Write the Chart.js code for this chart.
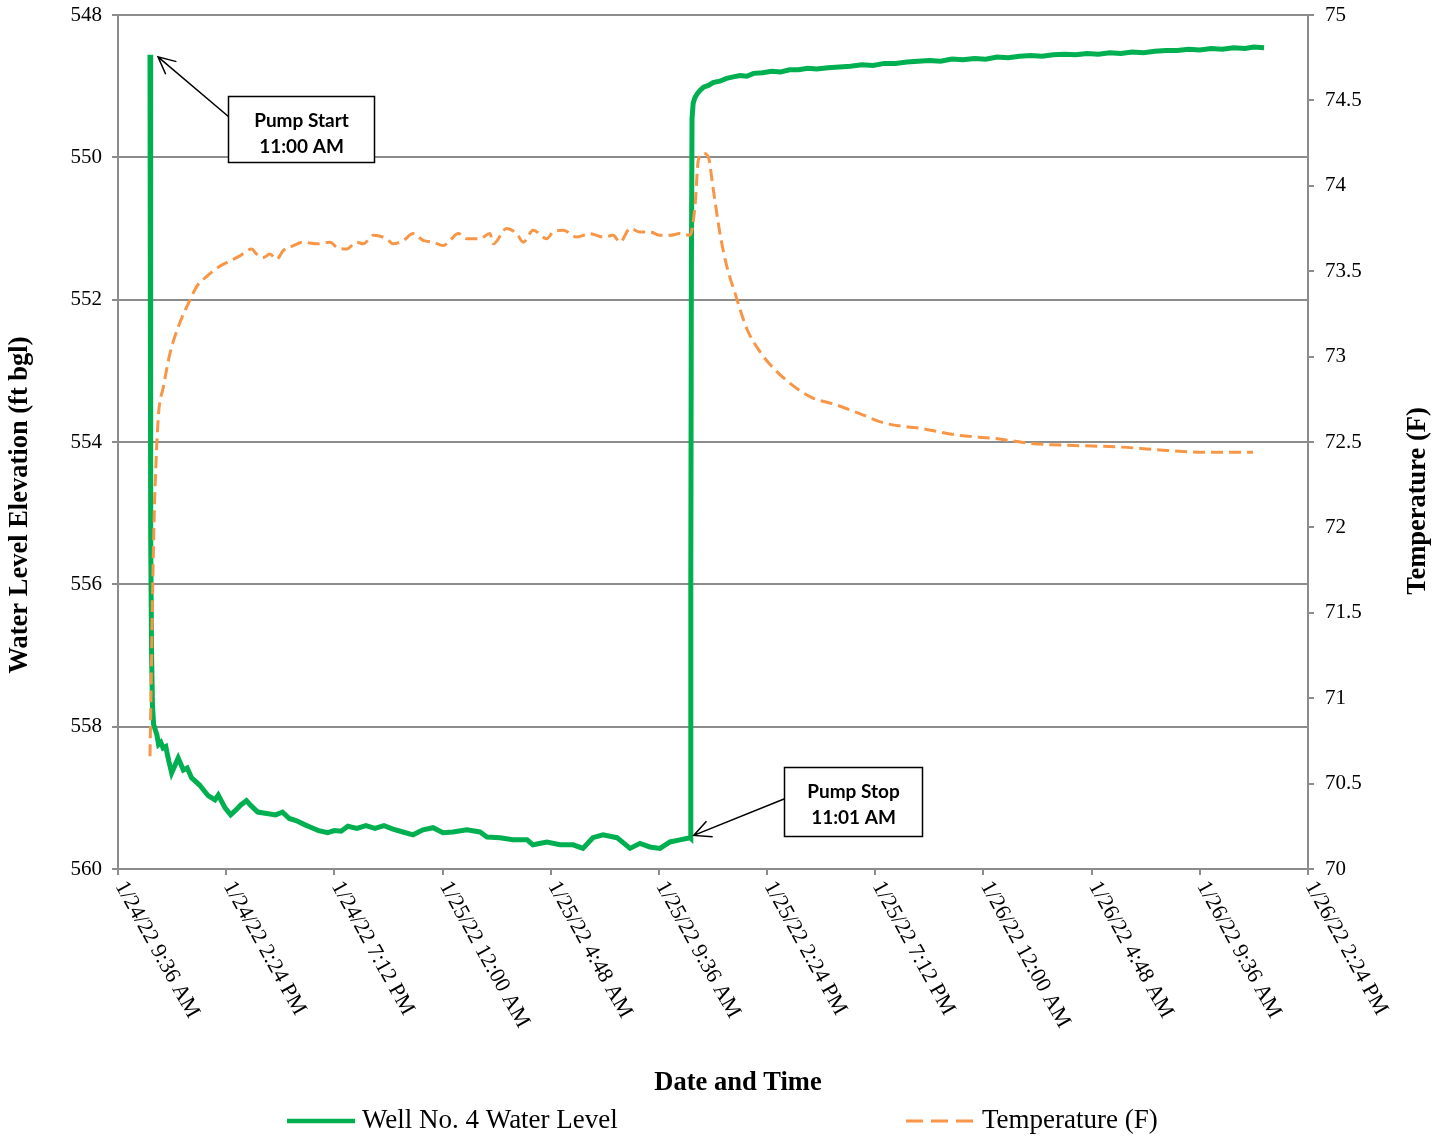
<!DOCTYPE html>
<html>
<head>
<meta charset="utf-8">
<title>Well No. 4 Water Level and Temperature</title>
<script src="https://cdn.jsdelivr.net/npm/chart.js@4.4.1/dist/chart.umd.min.js"></script>
<style>
  html, body { margin: 0; padding: 0; background: #fff; }
  #wrap { width: 1448px; height: 1141px; position: relative; }
</style>
</head>
<body>
<div id="wrap"><canvas id="wellChart"></canvas></div>
<script>
// hours since 1/24/22 9:36 AM
const levelHours = [
  1.42, 1.44, 1.46, 1.49, 1.53, 1.58, 1.66, 1.73, 1.80, 1.90, 2.00, 2.12, 2.25, 2.38, 2.67, 2.90, 3.07, 3.27,
  3.62, 4.00, 4.30, 4.45, 4.75, 5.00, 5.20, 5.45, 5.70, 5.90, 6.20, 6.60, 7.00, 7.30, 7.60, 7.90, 8.30, 8.60,
  8.90, 9.30, 9.60, 9.90, 10.20, 10.60, 11.00, 11.40, 11.80, 12.20, 12.64, 13.09, 13.53, 13.98, 14.42, 14.86,
  15.48, 16.06, 16.37, 16.95, 17.52, 18.15, 18.41, 19.03, 19.61, 20.19, 20.63, 21.07, 21.52, 22.14, 22.72,
  23.16, 23.60, 24.05, 24.49, 24.93, 25.38, 25.41,
  25.42, 25.44, 25.47, 25.52, 25.60, 25.72, 25.85, 26.0, 26.2, 26.4, 26.7, 27.0, 27.3, 27.6, 27.9, 28.2, 28.6,
  29.0, 29.4, 29.8, 30.2, 30.6, 31.0, 31.5, 32.0, 32.5, 33.0, 33.5, 34.0, 34.5, 35.0, 35.5, 36.0, 36.5, 37.0,
  37.5, 38.0, 38.5, 39.0, 39.5, 40.0, 40.5, 41.0, 41.5, 42.0, 42.5, 43.0, 43.5, 44.0, 44.5, 45.0, 45.5, 46.0,
  46.5, 47.0, 47.5, 48.0, 48.5, 49.0, 49.5, 50.0, 50.4, 50.85
];
const levelFt = [
  548.56, 552.0, 555.3, 557.0, 557.7, 557.97, 558.05, 558.12, 558.25, 558.22, 558.30, 558.28, 558.48, 558.65,
  558.44, 558.61, 558.58, 558.72, 558.82, 558.97, 559.03, 558.96, 559.14, 559.24, 559.18, 559.10, 559.04,
  559.11, 559.20, 559.22, 559.24, 559.20, 559.29, 559.32, 559.38, 559.42, 559.46, 559.49, 559.46, 559.47,
  559.40, 559.43, 559.39, 559.43, 559.39, 559.44, 559.48, 559.52, 559.45, 559.42, 559.49, 559.48, 559.45,
  559.48, 559.55, 559.56, 559.59, 559.59, 559.66, 559.62, 559.66, 559.66, 559.71, 559.56, 559.52, 559.56,
  559.71, 559.64, 559.69, 559.71, 559.62, 559.59, 559.56, 559.57,
  556.0, 551.6, 549.45, 549.24, 549.16, 549.10, 549.05, 549.01, 548.99, 548.95, 548.93, 548.89, 548.87,
  548.85, 548.86, 548.82, 548.81, 548.79, 548.80, 548.77, 548.77, 548.75, 548.76, 548.74, 548.73, 548.72,
  548.70, 548.71, 548.68, 548.68, 548.66, 548.65, 548.64, 548.65, 548.62, 548.63, 548.61, 548.62, 548.59,
  548.60, 548.58, 548.57, 548.58, 548.56, 548.55, 548.56, 548.54, 548.55, 548.53, 548.54, 548.52, 548.53,
  548.51, 548.50, 548.50, 548.48, 548.49, 548.47, 548.48, 548.46, 548.47, 548.45, 548.46
];

const tempHours = [
  1.42, 1.46, 1.53, 1.60, 1.64, 1.79, 2.01, 2.31, 2.75, 3.19, 3.49, 3.94, 4.53, 5.12, 5.41, 5.93, 6.15, 6.45,
  6.74, 7.04, 7.33, 7.78, 8.22, 8.82, 9.41, 9.70, 10.15, 10.59, 10.88, 11.33, 11.92, 12.21, 12.66, 13.10,
  13.54, 13.99, 14.43, 14.73, 15.10, 15.47, 16.06, 16.50, 16.65, 17.24, 17.69, 17.98, 18.42, 19.02, 19.31,
  19.76, 20.35, 20.94, 21.53, 21.97, 22.27, 22.72, 23.16, 23.60, 24.05, 24.49, 24.93, 25.38,
  25.60, 25.75, 25.97, 26.19, 26.40, 26.71, 27.01, 27.38, 27.91, 28.53, 29.10, 29.95, 30.79, 31.81, 32.83,
  34.03, 35.58, 37.27, 38.95, 40.64, 42.37, 44.54, 46.58, 48.31, 50.36
];
const tempF = [
  70.66, 70.99, 71.57, 72.04, 72.22, 72.65, 72.82, 73.02, 73.20, 73.33, 73.41, 73.47, 73.53, 73.57, 73.59,
  73.63, 73.60, 73.58, 73.60, 73.57, 73.62, 73.65, 73.67, 73.66, 73.67, 73.64, 73.63, 73.67, 73.66, 73.71,
  73.69, 73.66, 73.68, 73.72, 73.68, 73.67, 73.65, 73.68, 73.72, 73.69, 73.69, 73.72, 73.66, 73.75, 73.72,
  73.67, 73.74, 73.69, 73.73, 73.74, 73.70, 73.72, 73.70, 73.71, 73.67, 73.75, 73.73, 73.73, 73.71, 73.71,
  73.72, 73.71,
  73.88, 74.15, 74.19, 74.17, 73.99, 73.72, 73.53, 73.37, 73.16, 73.02, 72.93, 72.83, 72.76, 72.72, 72.67,
  72.61, 72.58, 72.54, 72.52, 72.49, 72.48, 72.47, 72.45, 72.44, 72.44
];

const xTickHours = [0, 4.8, 9.6, 14.4, 19.2, 24, 28.8, 33.6, 38.4, 43.2, 48, 52.8];
const xTickLabels = [
  '1/24/22 9:36 AM', '1/24/22 2:24 PM', '1/24/22 7:12 PM', '1/25/22 12:00 AM',
  '1/25/22 4:48 AM', '1/25/22 9:36 AM', '1/25/22 2:24 PM', '1/25/22 7:12 PM',
  '1/26/22 12:00 AM', '1/26/22 4:48 AM', '1/26/22 9:36 AM', '1/26/22 2:24 PM'
];

const seriesNames = ['Well No. 4 Water Level', 'Temperature (F)'];

const GREEN = '#00B050';
const ORANGE = '#F79646';
const GRID = '#8c8c8c';
const SERIF = "'Liberation Serif', 'Times New Roman', serif";

const extras = {
  id: 'extras',
  afterDraw(chart) {
    const ctx = chart.ctx;
    const x = chart.scales.x;
    const yL = chart.scales.yL;
    const area = chart.chartArea;

    ctx.save();
    // rotated date labels
    ctx.fillStyle = '#000';
    ctx.font = '22px ' + SERIF;
    ctx.textAlign = 'left';
    ctx.textBaseline = 'middle';
    xTickHours.forEach((h, i) => {
      const px = x.getPixelForValue(h);
      ctx.save();
      ctx.translate(px + 2, area.bottom + 14);
      ctx.rotate(61 * Math.PI / 180);
      ctx.fillText(xTickLabels[i], 0, 0);
      ctx.restore();
    });

    // axis titles
    ctx.font = 'bold 26.5px ' + SERIF;
    ctx.textAlign = 'center';
    ctx.fillText('Date and Time', 738, 1083);
    ctx.save();
    ctx.translate(20, 505);
    ctx.rotate(-Math.PI / 2);
    ctx.fillText('Water Level Elevation (ft bgl)', 0, 0);
    ctx.restore();
    ctx.save();
    ctx.translate(1418, 501);
    ctx.rotate(-Math.PI / 2);
    ctx.fillText('Temperature (F)', 0, 0);
    ctx.restore();

    // legend
    ctx.textAlign = 'left';
    ctx.font = '27px ' + SERIF;
    ctx.lineCap = 'butt';
    ctx.strokeStyle = GREEN;
    ctx.lineWidth = 4.5;
    ctx.beginPath();
    ctx.moveTo(287, 1121);
    ctx.lineTo(355, 1121);
    ctx.stroke();
    ctx.fillText(seriesNames[0], 362, 1121);
    ctx.strokeStyle = ORANGE;
    ctx.lineWidth = 3;
    ctx.setLineDash([17, 8]);
    ctx.beginPath();
    ctx.moveTo(906, 1121);
    ctx.lineTo(975, 1121);
    ctx.stroke();
    ctx.setLineDash([]);
    ctx.fillText(seriesNames[1], 982, 1121);

    // callouts
    const callout = (bx, by, bw, bh, lines, fromX, fromY, tipX, tipY) => {
      ctx.strokeStyle = '#000';
      ctx.lineWidth = 1.5;
      ctx.beginPath();
      ctx.moveTo(fromX, fromY);
      ctx.lineTo(tipX, tipY);
      const ang = Math.atan2(fromY - tipY, fromX - tipX);
      const len = 19, spread = 0.45;
      ctx.moveTo(tipX + len * Math.cos(ang + spread), tipY + len * Math.sin(ang + spread));
      ctx.lineTo(tipX, tipY);
      ctx.lineTo(tipX + len * Math.cos(ang - spread), tipY + len * Math.sin(ang - spread));
      ctx.stroke();
      ctx.fillStyle = '#fff';
      ctx.fillRect(bx, by, bw, bh);
      ctx.strokeRect(bx, by, bw, bh);
      ctx.fillStyle = '#000';
      ctx.font = 'bold 19px Lato, "Noto Sans", sans-serif';
      ctx.textAlign = 'center';
      ctx.textBaseline = 'middle';
      ctx.fillText(lines[0], bx + bw / 2, by + 24);
      ctx.fillText(lines[1], bx + bw / 2, by + 50);
    };
    const startX = x.getPixelForValue(levelHours[0]) + 8;
    const startY = yL.getPixelForValue(levelFt[0]) + 2;
    callout(228.5, 96.5, 146, 66, ['Pump Start', '11:00 AM'], 229, 117, startX, startY);
    const stopIdx = levelHours.indexOf(25.41);
    const stopX = x.getPixelForValue(levelHours[stopIdx]) + 3;
    const stopY = yL.getPixelForValue(levelFt[stopIdx]) - 3;
    callout(784.5, 767.5, 138, 69, ['Pump Stop', '11:01 AM'], 784, 799, stopX, stopY);
    ctx.restore();
  }
};

const noEndPadding = (s) => { s.paddingTop = 0; s.paddingBottom = 0; };

new Chart(document.getElementById('wellChart'), {
  type: 'line',
  data: {
    datasets: [
      {
        label: seriesNames[0],
        data: levelHours.map((h, i) => ({ x: h, y: levelFt[i] })),
        yAxisID: 'yL',
        borderColor: GREEN,
        borderWidth: 5,
        pointRadius: 0,
        tension: 0,
        order: 1
      },
      {
        label: seriesNames[1],
        data: tempHours.map((h, i) => ({ x: h, y: tempF[i] })),
        yAxisID: 'yR',
        borderColor: ORANGE,
        borderWidth: 3,
        borderDash: [12, 6],
        pointRadius: 0,
        cubicInterpolationMode: 'monotone',
        order: 0
      }
    ]
  },
  options: {
    responsive: true,
    maintainAspectRatio: false,
    animation: false,
    layout: { padding: { top: 15, left: 0, right: 0, bottom: 0 } },
    plugins: { legend: { display: false }, tooltip: { enabled: false } },
    scales: {
      x: {
        type: 'linear',
        min: 0,
        max: 52.8,
        afterBuildTicks: (s) => { s.ticks = xTickHours.map(v => ({ value: v })); },
        afterFit: (s) => { s.height = 272; s.paddingLeft = 0; s.paddingRight = 0; },
        ticks: { display: false },
        grid: { display: true, drawOnChartArea: false, drawTicks: true, tickLength: 6, color: GRID, lineWidth: 2 },
        border: { color: GRID, width: 2 }
      },
      yL: {
        position: 'left',
        reverse: true,
        min: 548,
        max: 560,
        afterFit: (s) => { s.width = 118; noEndPadding(s); },
        ticks: {
          stepSize: 2,
          padding: 10,
          color: '#000',
          font: { family: SERIF, size: 21 },
          callback: (v) => String(v)
        },
        grid: { color: GRID, lineWidth: 2, tickLength: 6 },
        border: { color: GRID, width: 2 }
      },
      yR: {
        position: 'right',
        min: 70,
        max: 75,
        afterFit: (s) => { s.width = 140; noEndPadding(s); },
        ticks: {
          stepSize: 0.5,
          padding: 11,
          color: '#000',
          font: { family: SERIF, size: 21 },
          callback: (v) => String(v)
        },
        grid: { drawOnChartArea: false, color: GRID, lineWidth: 2, tickLength: 6 },
        border: { color: GRID, width: 2 }
      }
    }
  },
  plugins: [extras]
});
</script>
</body>
</html>
